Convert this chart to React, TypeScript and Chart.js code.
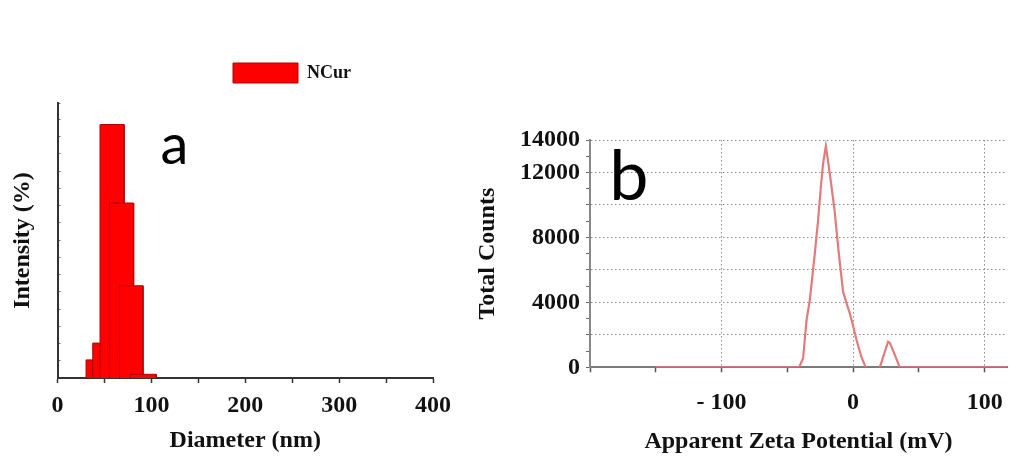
import React, { useEffect, useRef } from 'react';
import { Chart, registerables } from 'chart.js';

Chart.register(...registerables);

// ---------- Panel a: size distribution ----------
const sizeBinStart = [30.4, 37.5, 45.3, 55.5, 66.1, 77.3];
const sizeBinEnd = [50.8, 60.2, 70.9, 81.1, 91.1, 105.1];
const sizeIntensity = [2.1, 4.05, 29.4, 20.3, 10.7, 0.43];
const diameterTickLabels = [0, 100, 200, 300, 400];
const seriesName = 'NCur';

// ---------- Panel b: zeta potential ----------
const zetaMv = [-150, -41, -38, -35.4, -32.9, -29.1, -26.6, -24.5, -22.8, -20.7, -18.5, -16.4, -14, -11.4, -9.5, -7.6, -5, -2.5, 0, 2.6, 6.4, 9.6, 15, 20.3, 23.5, 26.6, 28, 31, 35.5, 117];
const zetaCounts = [0, 0, 554, 2910, 4144, 7020, 9070, 11120, 12560, 13630, 12400, 11120, 9600, 7430, 6000, 4650, 3950, 3325, 2550, 1680, 620, 0, null, 0, 800, 1580, 1500, 900, 0, 0];
const zetaTickValues = [-100, 0, 100];
const zetaTickLabels = ['- 100', '0', '100'];
const countTickLabels = [0, 4000, 8000, 12000, 14000];

const serif = "'Liberation Serif', 'Times New Roman', serif";
const textColor = '#111';
const boldFont = (size: number) => ({ family: serif, size, weight: 'bold' as const });

export default function App() {
  const refA = useRef<HTMLCanvasElement | null>(null);
  const refB = useRef<HTMLCanvasElement | null>(null);

  useEffect(() => {
    document.body.style.margin = '0';
    const n = sizeBinStart.length;
    const datasetsA = sizeBinStart.map((s, i) => ({
      type: 'line' as const,
      label: seriesName,
      data: [
        { x: s, y: 0 },
        { x: s, y: sizeIntensity[i] },
        { x: sizeBinEnd[i], y: sizeIntensity[i] },
        { x: sizeBinEnd[i], y: 0 },
      ],
      backgroundColor: '#ff0000',
      borderColor: '#b00000',
      borderWidth: 1,
      fill: 'origin',
      pointRadius: 0,
      tension: 0,
      order: n - i,
    }));

    const chartA = new Chart(refA.current!, {
      type: 'line',
      data: { datasets: datasetsA as any },
      options: {
        responsive: false,
        animation: false,
        devicePixelRatio: 1,
        events: [],
        layout: { padding: { top: 53, left: 0, right: 0, bottom: 0 } },
        plugins: {
          tooltip: { enabled: false },
          legend: {
            display: true,
            position: 'top',
            align: 'center',
            labels: {
              boxWidth: 65,
              boxHeight: 20,
              padding: 10,
              color: textColor,
              font: boldFont(18),
              filter: (item: any) => item.datasetIndex === 0,
            },
          },
        },
        scales: {
          x: {
            type: 'linear',
            position: 'bottom',
            min: 0,
            max: 400,
            ticks: {
              stepSize: 50,
              autoSkip: false,
              maxRotation: 0,
              padding: 8.6,
              color: textColor,
              font: boldFont(24),
              callback: (v: any) => (diameterTickLabels.includes(v) ? String(v) : ''),
            },
            grid: { drawOnChartArea: false, tickLength: 5, tickColor: '#333', tickWidth: 1.5 },
            border: { color: '#333', width: 2 },
            title: { display: true, text: 'Diameter (nm)', color: textColor, font: boldFont(24), padding: { top: 0, bottom: 1.6 } },
            afterFit: (s: any) => { s.height = 79; },
          },
          y: {
            type: 'linear',
            position: 'left',
            min: 0,
            max: 31.9,
            ticks: { display: false, stepSize: 2 },
            grid: { drawOnChartArea: false, tickLength: -3, tickColor: '#777', tickWidth: 1 },
            border: { color: '#333', width: 2 },
            title: { display: true, text: 'Intensity (%)', color: textColor, font: boldFont(24), padding: { top: 8.6, bottom: 0 } },
            afterFit: (s: any) => { s.width = 57.5; },
          },
          xTop: {
            type: 'linear',
            position: 'top',
            display: true,
            grid: { display: false },
            ticks: { display: false },
            border: { display: false },
            afterFit: (s: any) => { s.height = 10; },
          },
          yRight: {
            type: 'linear',
            position: 'right',
            display: true,
            grid: { display: false },
            ticks: { display: false },
            border: { display: false },
            afterFit: (s: any) => { s.width = 151; },
          },
        },
      } as any,
    });

    const chartB = new Chart(refB.current!, {
      type: 'line',
      data: {
        datasets: [
          {
            label: 'Total Counts',
            data: zetaMv.map((x, i) => ({ x, y: zetaCounts[i] })) as any,
            borderColor: '#e27c7c',
            borderWidth: 2.2,
            pointRadius: 0,
            tension: 0,
            fill: false,
            spanGaps: false,
          },
        ],
      },
      options: {
        responsive: false,
        animation: false,
        devicePixelRatio: 1,
        events: [],
        layout: { padding: { top: 140, left: 0, right: 3, bottom: 0 } },
        plugins: { legend: { display: false }, tooltip: { enabled: false } },
        scales: {
          x: {
            type: 'linear',
            min: -200,
            max: 117,
            ticks: {
              stepSize: 50,
              includeBounds: false,
              autoSkip: false,
              maxRotation: 0,
              padding: 16,
              color: textColor,
              font: boldFont(24),
              callback: (v: any) => {
                const k = zetaTickValues.indexOf(v);
                return k >= 0 ? zetaTickLabels[k] : '';
              },
            },
            grid: {
              color: (c: any) => (c.tick && zetaTickValues.includes(c.tick.value) ? '#8a8a8a' : 'rgba(0,0,0,0)'),
              lineWidth: 1,
              tickLength: 5,
              tickColor: '#555',
              tickWidth: 1.5,
            },
            border: { color: '#7a7a7a', width: 2, dash: [1.5, 2.5] },
            title: { display: true, text: 'Apparent Zeta Potential (mV)', color: textColor, font: boldFont(24), padding: { top: 0, bottom: 0.9 } },
            afterFit: (s: any) => { s.height = 89.7; s.paddingLeft = 0; s.paddingRight = 0; },
          },
          y: {
            type: 'linear',
            min: 0,
            max: 14000,
            ticks: {
              stepSize: 1000,
              autoSkip: false,
              padding: 6,
              color: textColor,
              font: boldFont(24),
              callback: (v: any) => (countTickLabels.includes(v) ? String(v) : ''),
            },
            grid: {
              color: (c: any) => (c.tick && c.tick.value % 2000 === 0 && c.tick.value !== 0 ? '#8a8a8a' : 'rgba(0,0,0,0)'),
              lineWidth: 1,
              tickLength: 4,
              tickColor: '#666',
              tickWidth: 1,
            },
            border: { color: '#888', width: 2, dash: [1.5, 2.5] },
            title: { display: true, text: 'Total Counts', color: textColor, font: boldFont(24), padding: { top: 3.6, bottom: 0 } },
            afterFit: (s: any) => { s.width = 120; },
          },
        },
      } as any,
    });

    return () => {
      chartA.destroy();
      chartB.destroy();
    };
  }, []);

  const panelLetter: React.CSSProperties = {
    position: 'absolute',
    fontFamily: "Lato, 'Open Sans', sans-serif",
    lineHeight: 1,
    color: '#000',
    zIndex: 3,
    margin: 0,
  };

  return (
    <div style={{ position: 'absolute', left: 0, top: 0, width: 1010, height: 457, background: '#fff', overflow: 'hidden' }}>
      <canvas ref={refA} width={584} height={457} style={{ position: 'absolute', left: 0, top: 0, zIndex: 1 }} />
      <canvas ref={refB} width={540} height={457} style={{ position: 'absolute', left: 470, top: 0, zIndex: 2 }} />
      <div style={{ ...panelLetter, left: 160.4, top: 115.3, fontSize: 56 }}>a</div>
      <div style={{ ...panelLetter, left: 609.3, top: 137.9, fontSize: 70 }}>b</div>
    </div>
  );
}
